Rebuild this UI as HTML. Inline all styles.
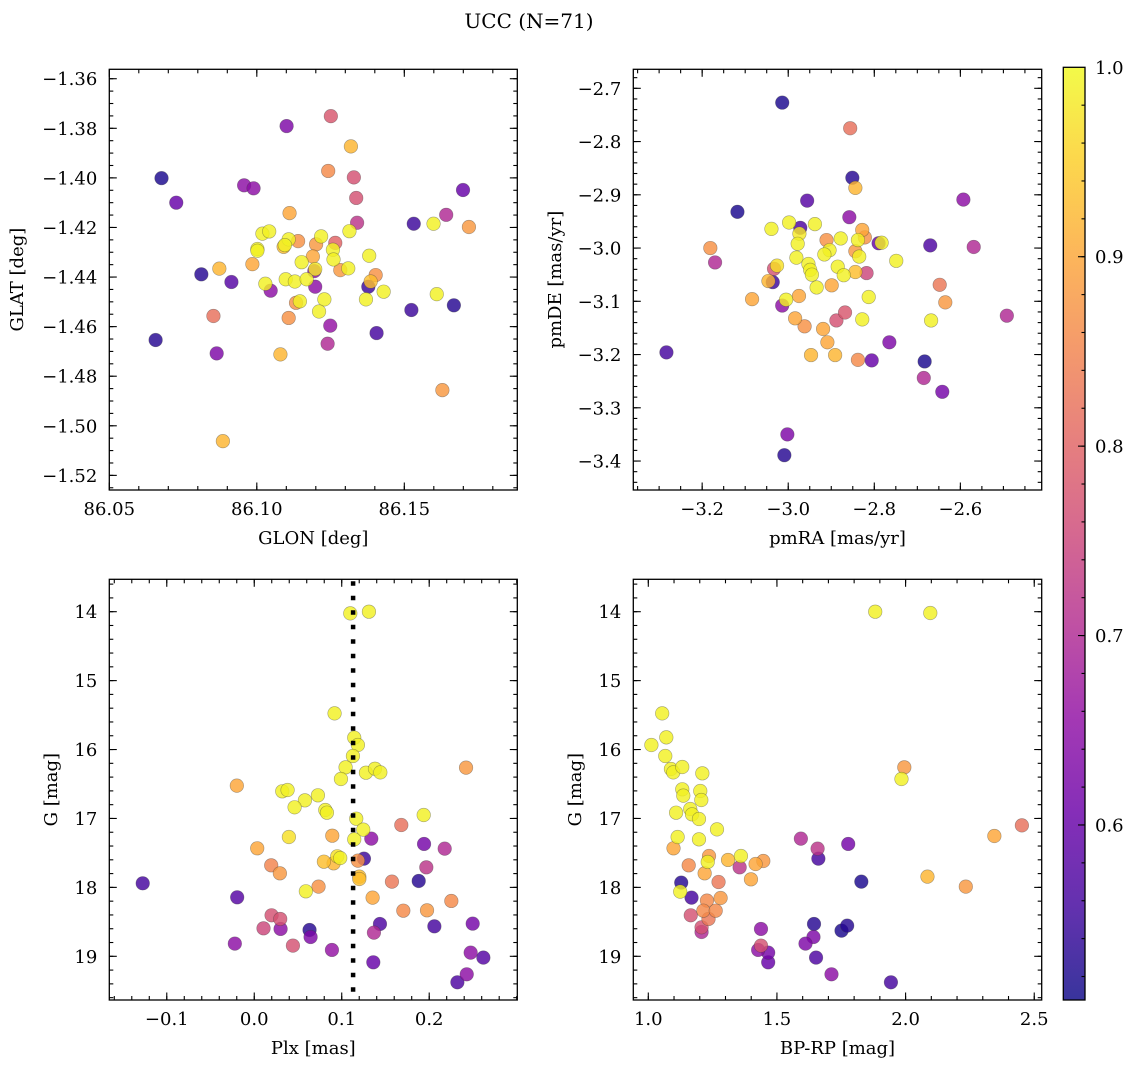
<!DOCTYPE html>
<html><head><meta charset="utf-8"><style>
html,body{margin:0;padding:0;background:#fff;}
svg{display:block;font-family:"DejaVu Serif","Liberation Serif",serif;}
</style></head><body>
<svg id="fig" width="1136" height="1067" viewBox="0 0 1136 1067" xmlns="http://www.w3.org/2000/svg">
<text x="529" y="28" font-size="20" text-anchor="middle">UCC (N=71)</text>
<g id="layer"></g>
</svg>
<script>
// ---------- data ----------
const p1x=[86.0677,86.0727,86.0957,86.0989,86.1101,86.1251,86.1319,86.1242,86.1329,86.1337,86.1340,86.1111,86.1699,86.1642,86.1532,86.1599,86.1719,86.1019,86.1042,86.1108,86.1140,86.1091,86.1095,86.1218,86.1201,86.1266,86.1314,86.1002,86.1002,86.1258,86.1190,86.1260,86.1381,86.1152,86.0985,86.1198,86.1195,86.1283,86.1310,86.0873,86.0812,86.0914,86.1098,86.1129,86.1169,86.1198,86.1029,86.1047,86.1403,86.1386,86.1378,86.1430,86.1610,86.1668,86.1524,86.1133,86.1146,86.1229,86.1211,86.1370,86.1108,86.0853,86.1249,86.1406,86.0657,86.0864,86.1240,86.1080,86.1629,86.0885];
const p1y=[-1.4001,-1.4100,-1.4030,-1.4042,-1.3791,-1.3751,-1.3873,-1.3972,-1.3998,-1.4081,-1.4181,-1.4142,-1.4049,-1.4149,-1.4185,-1.4185,-1.4198,-1.4225,-1.4216,-1.4248,-1.4255,-1.4278,-1.4271,-1.4236,-1.4268,-1.4262,-1.4215,-1.4287,-1.4294,-1.4290,-1.4317,-1.4329,-1.4314,-1.4340,-1.4348,-1.4368,-1.4376,-1.4372,-1.4365,-1.4366,-1.4389,-1.4420,-1.4409,-1.4418,-1.4409,-1.4439,-1.4427,-1.4455,-1.4392,-1.4418,-1.4439,-1.4459,-1.4469,-1.4514,-1.4533,-1.4504,-1.4498,-1.4490,-1.4539,-1.4490,-1.4565,-1.4557,-1.4596,-1.4626,-1.4654,-1.4708,-1.4669,-1.4712,-1.4856,-1.5062];
const p1c=[0.52,0.60,0.65,0.65,0.63,0.78,0.92,0.86,0.77,0.77,0.72,0.90,0.60,0.70,0.55,0.99,0.88,0.99,0.99,0.99,0.87,0.93,0.99,0.99,0.88,0.80,0.99,0.99,0.99,0.99,0.90,0.99,0.99,0.99,0.90,0.98,0.65,0.88,0.99,0.92,0.53,0.58,0.99,0.99,0.99,0.65,0.99,0.65,0.87,0.93,0.55,0.99,0.99,0.53,0.55,0.87,0.99,0.99,0.99,0.99,0.87,0.82,0.66,0.56,0.53,0.63,0.70,0.92,0.88,0.92];

const p2x=[-3.0139,-2.856,-2.851,-2.844,-2.956,-3.118,-2.593,-2.858,-3.039,-2.998,-2.972,-2.974,-2.938,-2.978,-2.911,-2.878,-2.828,-2.822,-2.838,-2.790,-2.783,-2.670,-2.569,-3.181,-3.170,-2.981,-2.904,-2.916,-2.844,-2.835,-2.953,-2.949,-2.945,-2.885,-2.871,-2.844,-2.818,-2.749,-3.033,-3.026,-3.036,-3.046,-2.934,-2.899,-2.648,-3.084,-3.014,-3.005,-2.975,-2.813,-2.635,-2.868,-2.888,-2.984,-2.828,-2.668,-2.492,-2.962,-2.919,-2.909,-2.765,-3.283,-2.947,-2.891,-2.838,-2.806,-2.683,-2.685,-2.642,-3.002,-3.009];
const p2y=[-2.7269,-2.775,-2.868,-2.887,-2.911,-2.932,-2.909,-2.942,-2.964,-2.952,-2.962,-2.973,-2.955,-2.992,-2.985,-2.982,-2.966,-2.980,-2.985,-2.991,-2.990,-2.995,-2.998,-3.000,-3.027,-3.018,-3.004,-3.012,-3.006,-3.016,-3.030,-3.041,-3.050,-3.035,-3.051,-3.045,-3.047,-3.024,-3.039,-3.033,-3.064,-3.062,-3.074,-3.070,-3.069,-3.096,-3.108,-3.097,-3.090,-3.092,-3.102,-3.121,-3.136,-3.132,-3.134,-3.136,-3.127,-3.147,-3.152,-3.177,-3.177,-3.196,-3.201,-3.201,-3.210,-3.211,-3.213,-3.244,-3.270,-3.350,-3.389];
const p2c=[0.52,0.82,0.53,0.92,0.58,0.52,0.65,0.65,0.99,0.99,0.57,0.98,0.99,0.99,0.87,0.99,0.90,0.87,0.99,0.60,0.99,0.57,0.70,0.87,0.70,0.99,0.99,0.99,0.88,0.99,0.99,0.99,0.99,0.99,0.99,0.93,0.75,0.99,0.77,0.97,0.55,0.92,0.99,0.90,0.83,0.90,0.65,0.99,0.90,0.99,0.88,0.78,0.77,0.90,0.99,0.99,0.70,0.87,0.90,0.90,0.63,0.56,0.92,0.92,0.86,0.60,0.52,0.70,0.62,0.63,0.53];

const p3x=[0.1098,0.1311,0.0918,0.1143,0.1185,0.1128,0.1044,0.0991,0.1277,0.1380,0.1441,0.2421,-0.0199,0.0320,0.0381,0.0728,0.0579,0.0461,0.0812,0.0831,0.1937,0.1166,0.1681,0.1246,0.0396,0.0892,0.1143,0.1338,0.1941,0.2177,0.0034,0.1254,0.0949,0.0983,0.0796,0.0907,0.1185,0.1967,0.0194,0.0293,0.1201,0.1201,-0.1275,0.1574,0.1880,0.0590,0.0735,-0.0195,0.1353,0.2253,0.1704,0.1975,0.0198,0.0297,0.0106,0.0301,0.0632,0.0644,0.1437,0.2059,0.2497,0.1368,-0.0222,0.0442,0.0888,0.2474,0.2619,0.1361,0.2429,0.2322];
const p3y=[14.024,14.00,15.475,15.828,15.934,16.094,16.258,16.427,16.336,16.278,16.331,16.263,16.524,16.606,16.587,16.664,16.737,16.838,16.877,16.916,16.950,17.003,17.095,17.162,17.269,17.250,17.303,17.293,17.370,17.438,17.433,17.583,17.549,17.574,17.627,17.651,17.612,17.709,17.680,17.796,17.844,17.878,17.941,17.917,17.907,18.057,17.989,18.144,18.149,18.197,18.338,18.333,18.405,18.458,18.594,18.603,18.618,18.720,18.531,18.565,18.526,18.657,18.816,18.845,18.908,18.947,19.019,19.087,19.261,19.377];
const p3c=[0.99,0.99,0.99,0.99,0.99,0.99,0.99,0.99,0.99,0.99,0.99,0.88,0.90,0.99,0.99,0.99,0.99,0.99,0.99,0.99,0.99,0.99,0.82,0.99,0.97,0.90,0.99,0.65,0.62,0.70,0.90,0.55,0.97,0.99,0.93,0.92,0.87,0.72,0.85,0.88,0.93,0.93,0.56,0.83,0.53,0.99,0.87,0.58,0.90,0.86,0.86,0.88,0.77,0.77,0.75,0.65,0.53,0.63,0.57,0.56,0.62,0.70,0.65,0.77,0.66,0.65,0.58,0.60,0.65,0.57];

const p4x=[1.882,2.096,1.054,1.070,1.012,1.066,1.088,1.097,1.132,1.210,1.995,1.984,1.132,1.136,1.202,1.206,1.108,1.163,1.170,1.197,1.267,1.114,1.197,1.098,2.452,2.345,1.593,1.658,1.777,1.661,1.236,1.231,1.310,1.360,1.417,1.447,1.355,1.157,1.219,1.399,2.085,1.128,1.124,1.273,1.828,2.234,1.168,1.281,1.228,1.214,1.262,1.165,1.234,1.207,1.207,1.438,1.644,1.751,1.773,1.642,1.611,1.438,1.427,1.466,1.466,1.652,1.712,1.943];
const p4y=[14.00,14.019,15.475,15.823,15.934,16.094,16.282,16.331,16.253,16.345,16.258,16.427,16.577,16.669,16.602,16.732,16.916,16.863,16.940,17.008,17.158,17.269,17.303,17.433,17.100,17.254,17.293,17.438,17.370,17.583,17.545,17.631,17.602,17.545,17.661,17.617,17.709,17.680,17.796,17.883,17.844,17.931,18.062,17.922,17.917,17.989,18.149,18.154,18.192,18.338,18.338,18.405,18.458,18.579,18.647,18.603,18.531,18.628,18.555,18.720,18.816,18.845,18.908,18.947,19.087,19.019,19.261,19.377];
const p4c=[0.99,0.99,0.99,0.99,0.99,0.99,0.99,0.99,0.99,0.99,0.88,0.99,0.99,0.99,0.99,0.99,0.99,0.99,0.99,0.99,0.99,0.99,0.99,0.90,0.82,0.90,0.70,0.72,0.62,0.56,0.88,0.99,0.92,0.99,0.90,0.88,0.72,0.86,0.90,0.90,0.92,0.53,0.99,0.83,0.52,0.88,0.56,0.88,0.86,0.86,0.86,0.77,0.83,0.77,0.70,0.65,0.53,0.52,0.53,0.63,0.63,0.77,0.65,0.62,0.60,0.57,0.65,0.56];

const p1xTicks=[86.05,86.10,86.15];
const p1yTicks=[-1.36,-1.38,-1.40,-1.42,-1.44,-1.46,-1.48,-1.50,-1.52];
const p2xTicks=[-3.2,-3.0,-2.8,-2.6];
const p2yTicks=[-2.7,-2.8,-2.9,-3.0,-3.1,-3.2,-3.3,-3.4];
const p3xTicks=[-0.1,0.0,0.1,0.2];
const gTicks=[14,15,16,17,18,19];
const p4xTicks=[1.0,1.5,2.0,2.5];
const cbTicks=[0.6,0.7,0.8,0.9,1.0];
const plxLine=0.113;
const cbMin=0.5076, cbMax=1.0;

// ---------- helpers ----------
const NS="http://www.w3.org/2000/svg";
const layer=document.getElementById('layer');
function mk(tag,attrs,parent){const e=document.createElementNS(NS,tag);for(const k in attrs)e.setAttribute(k,attrs[k]);(parent||layer).appendChild(e);return e;}
const plasma=[[13,8,135],[65,4,157],[106,0,168],[143,13,164],[177,42,144],[204,71,120],[225,100,98],[242,132,75],[252,166,54],[252,206,37],[240,249,33]];
function cmap(v){let t=(v-cbMin)/(cbMax-cbMin);t=Math.max(0,Math.min(1,t))*10;const i=Math.min(9,Math.floor(t)),f=t-i;const a=plasma[i],b=plasma[i+1];return 'rgb('+a.map((c,k)=>Math.round(c+(b[k]-c)*f)).join(',')+')';}
function fmt(v,d){const s=Math.abs(v).toFixed(d);return (v<-1e-9?'\u2212':'')+s;}
function scale(d0,d1,r0,r1){return v=>r0+(v-d0)/(d1-d0)*(r1-r0);}

function panel(cfg){
  const {L,T,R,B,xd,yd,xs,ys,name}=cfg;
  const X=scale(xd[0],xd[1],L,R), Y=scale(yd[0],yd[1],T,B);
  const g=mk('g',{});
  
  
  const idx=cfg.x.map((_,i)=>i).sort((a,b)=>cfg.c[a]-cfg.c[b]);
  const pg=mk('g',{},g);
  
  
  idx.forEach(i=>{
    const c=mk('circle',{cx:X(cfg.x[i]).toFixed(2),cy:Y(cfg.y[i]).toFixed(2),r:6.8,fill:cmap(cfg.c[i]),'fill-opacity':0.82,stroke:'rgba(60,60,60,0.45)','stroke-width':0.6},pg);
    
    
  });
  if(cfg.vline!==undefined){
    const l=mk('line',{x1:X(cfg.vline),x2:X(cfg.vline),y1:T+2,y2:B,stroke:'#000','stroke-width':4.5,'stroke-dasharray':'4.5 10'},g);
    
    
  }
  const fr=mk('rect',{x:L,y:T,width:R-L,height:B-T,fill:'none',stroke:'#000','stroke-width':1.3},g);
  
  
  const tg=mk('g',{stroke:'#000','stroke-width':1.1},g);
  function minors(d,step){const lo=Math.min(d[0],d[1]),hi=Math.max(d[0],d[1]);const out=[];for(let k=Math.ceil(lo/step-1e-6);k*step<=hi+1e-9;k++)out.push(k*step);return out;}
  minors(xd,cfg.xm).forEach(v=>{const x=X(v);if(x<L+0.5||x>R-0.5)return;mk('line',{x1:x,x2:x,y1:B,y2:B-4},tg);mk('line',{x1:x,x2:x,y1:T,y2:T+4},tg);});
  minors(yd,cfg.ym).forEach(v=>{const y=Y(v);if(y<T+0.5||y>B-0.5)return;mk('line',{x1:L,x2:L+4,y1:y,y2:y},tg);mk('line',{x1:R,x2:R-4,y1:y,y2:y},tg);});
  xs.forEach(v=>{const x=X(v);mk('line',{x1:x,x2:x,y1:B,y2:B-7.5},tg);mk('line',{x1:x,x2:x,y1:T,y2:T+7.5},tg);
    const t=mk('text',{x:x,y:B+25,'font-size':18,'text-anchor':'middle'},g);t.textContent=fmt(v,cfg.xdp);
    
    });
  ys.forEach(v=>{const y=Y(v);mk('line',{x1:L,x2:L+7.5,y1:y,y2:y},tg);mk('line',{x1:R,x2:R-7.5,y1:y,y2:y},tg);
    const t=mk('text',{x:L-12,y:y+6.5,'font-size':18,'text-anchor':'end'},g);t.textContent=fmt(v,cfg.ydp);
    
    });
  const xl=mk('text',{x:(L+R)/2,y:B+54,'font-size':18,'text-anchor':'middle'},g);xl.textContent=cfg.xlab;
  
  
  const yl=mk('text',{x:cfg.ylx,y:(T+B)/2,'font-size':18,'text-anchor':'middle',transform:'rotate(-90 '+cfg.ylx+' '+(T+B)/2+')'},g);yl.textContent=cfg.ylab;
  
  
}

panel({name:'glon-glat-panel',L:109.3,T:69.3,R:517.3,B:490,xd:[86.05,86.1883],yd:[-1.3562,-1.5259],xs:p1xTicks,ys:p1yTicks,xm:0.01,ym:0.005,xdp:2,ydp:2,x:p1x,y:p1y,c:p1c,xlab:'GLON [deg]',ylab:'GLAT [deg]',ylx:23});
panel({name:'pm-panel',L:633.3,T:69.3,R:1041.7,B:490,xd:[-3.360,-2.411],yd:[-2.6643,-3.4544],xs:p2xTicks,ys:p2yTicks,xm:0.05,ym:0.02,xdp:1,ydp:1,x:p2x,y:p2y,c:p2c,xlab:'pmRA [mas/yr]',ylab:'pmDE [mas/yr]',ylx:561});
panel({name:'plx-g-panel',L:109.3,T:579.3,R:517.3,B:1000,xd:[-0.1657,0.3007],yd:[13.530,19.634],xs:p3xTicks,ys:gTicks,xm:0.02,ym:0.2,xdp:1,ydp:0,x:p3x,y:p3y,c:p3c,xlab:'Plx [mas]',ylab:'G [mag]',ylx:57,vline:plxLine});
panel({name:'cmd-panel',L:633.3,T:579.3,R:1041.7,B:1000,xd:[0.9417,2.529],yd:[13.530,19.634],xs:p4xTicks,ys:gTicks,xm:0.1,ym:0.2,xdp:1,ydp:0,x:p4x,y:p4y,c:p4c,xlab:'BP-RP [mag]',ylab:'G [mag]',ylx:581});

// ---------- colorbar ----------
(function(){
  const L=1063.3,R=1085,T=67.3,B=1000;
  const Y=scale(cbMax,cbMin,T,B);
  const defs=mk('defs',{});
  const lg=mk('linearGradient',{id:'cbg',x1:0,y1:1,x2:0,y2:0},defs);
  plasma.forEach((c,i)=>mk('stop',{offset:(i/10),'stop-color':'rgb('+c.join(',')+')','stop-opacity':0.82},lg));
  const g=mk('g',{});
  
  
  mk('rect',{x:L,y:T,width:R-L,height:B-T,fill:'url(#cbg)',stroke:'#000','stroke-width':1.3},g);
  for(let k=26;k<=50;k++){const v=k*0.02;const y=Y(v);if(y<T+0.5||y>B-0.5)continue;mk('line',{x1:R,x2:R-3.5,y1:y,y2:y,stroke:'#000','stroke-width':1.1},g);}
  cbTicks.forEach(v=>{const y=Y(v);if(y>T+0.5)mk('line',{x1:R,x2:R-7,y1:y,y2:y,stroke:'#000','stroke-width':1.1},g);
    const t=mk('text',{x:R+10,y:y+6.5,'font-size':18},g);t.textContent=v.toFixed(1);
    
    });
})();
</script>
</body></html>
